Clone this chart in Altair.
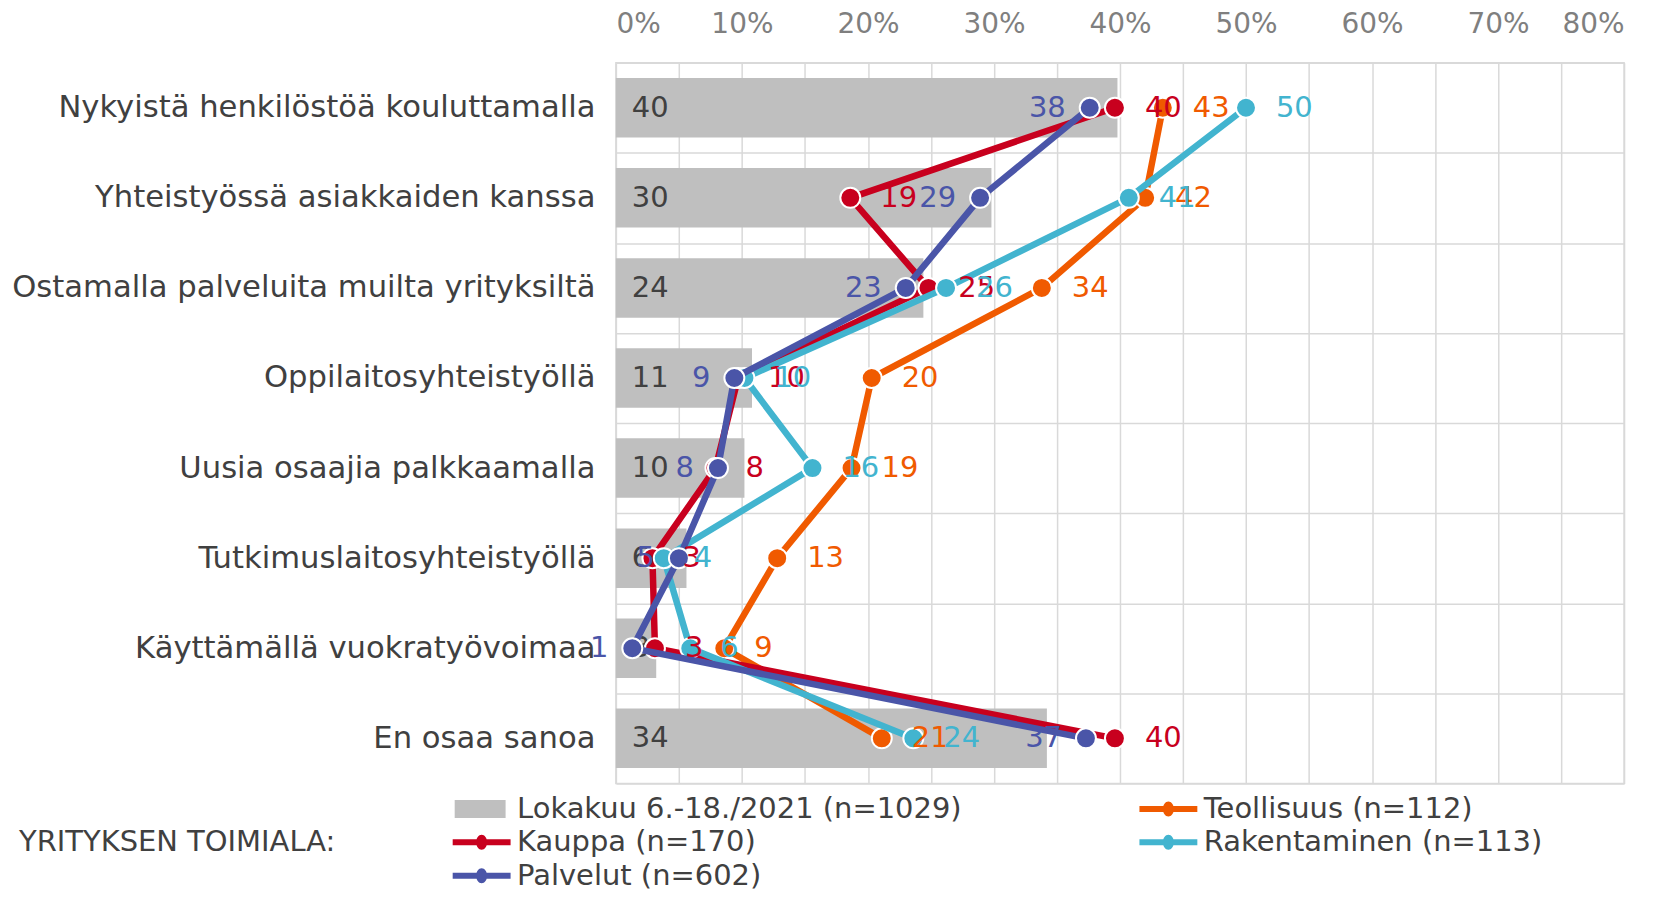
import altair as alt
import pandas as pd

categories = [
    "Nykyistä henkilöstöä kouluttamalla",
    "Yhteistyössä asiakkaiden kanssa",
    "Ostamalla palveluita muilta yrityksiltä",
    "Oppilaitosyhteistyöllä",
    "Uusia osaajia palkkaamalla",
    "Tutkimuslaitosyhteistyöllä",
    "Käyttämällä vuokratyövoimaa",
    "En osaa sanoa",
]
total_2021 = [39.8, 29.8, 24.4, 10.8, 10.2, 5.6, 3.2, 34.2]
teollisuus = [43.4, 42.0, 33.8, 20.3, 18.7, 12.8, 8.6, 21.1]
kauppa = [39.6, 18.6, 24.8, 9.7, 7.9, 2.9, 3.1, 39.6]
rakentaminen = [50.0, 40.7, 26.2, 10.2, 15.6, 3.8, 5.9, 23.6]
palvelut = [37.6, 28.9, 23.0, 9.4, 8.1, 5.0, 1.3, 37.3]

bar_name = "Lokakuu 6.-18./2021 (n=1029)"
line_names = ["Teollisuus (n=112)", "Kauppa (n=170)", "Rakentaminen (n=113)", "Palvelut (n=602)"]
colors = {
    bar_name: "#bfbfbf",
    "Teollisuus (n=112)": "#f05a00",
    "Kauppa (n=170)": "#c8001e",
    "Rakentaminen (n=113)": "#42b4cf",
    "Palvelut (n=602)": "#4a55a8",
}
# legend fills columns top-to-bottom: this gives rows Lokakuu|Teollisuus, Kauppa|Rakentaminen, Palvelut
legend_order = [bar_name, "Kauppa (n=170)", "Palvelut (n=602)", "Teollisuus (n=112)", "Rakentaminen (n=113)"]
x_ticks = [0, 5, 10, 15, 20, 25, 30, 35, 40, 45, 50, 55, 60, 65, 70, 75, 80]
legend_title = "YRITYKSEN TOIMIALA:"

FONT = "DejaVu Sans"
TXT = "#404040"

bars_df = pd.DataFrame({
    "category": categories,
    "value": total_2021,
    "zero": [0] * len(categories),
    "label": [f"{v:.0f}" for v in total_2021],
})

rows = []
for name, vals in zip(line_names, [teollisuus, kauppa, rakentaminen, palvelut]):
    for i, (c, v) in enumerate(zip(categories, vals)):
        rows.append({"series": name, "category": c, "idx": i, "value": v, "label": f"{v:.0f}"})
lines_df = pd.DataFrame(rows)

color_scale = alt.Scale(domain=legend_order, range=[colors[n] for n in legend_order])
x_scale = alt.Scale(domain=[0, 80], nice=False, zero=True)
y_scale = alt.Scale(domain=categories, paddingInner=0, paddingOuter=0)

x_axis = alt.Axis(
    orient="top", values=x_ticks,
    labelExpr="datum.value % 10 === 0 ? datum.value + '%' : ''",
    ticks=False, domain=False, grid=True, gridColor="#d9d9d9", gridWidth=1.5,
    labelFontSize=28, labelColor="#7f7f7f", labelFont=FONT, labelPadding=24, title=None,
)
y_axis = alt.Axis(
    title=None, ticks=False, domain=False, grid=True, gridColor="#d9d9d9", gridWidth=1.5,
    tickBand="extent", labelFontSize=30.7, labelColor=TXT, labelFont=FONT,
    labelPadding=21, labelLimit=0,
)

square_path = "M-2.7,-0.9H2.4V0.9H-2.7Z"
line_path = "M-2.9,-0.3H2.9V0.3H-2.9Z M0.55,0A0.55,0.75,0,1,1,-0.55,0A0.55,0.75,0,1,1,0.55,0Z"

legend = alt.Legend(
    title=legend_title, orient="none", legendX=-598, legendY=733,
    columns=2, columnPadding=177, rowPadding=3.5,
    titleOrient="left", titleAnchor="middle", titleBaseline="middle", titleLimit=600,
    titleFontSize=29, titleFontWeight="normal", titleColor=TXT, titleFont=FONT, titlePadding=132,
    labelFontSize=29, labelColor=TXT, labelFont=FONT, labelOffset=21, labelLimit=0,
    symbolSize=400, symbolStrokeWidth=0, symbolOpacity=1,
)

X = lambda f="value": alt.X(f"{f}:Q", scale=x_scale, axis=x_axis)
Y = lambda: alt.Y("category:N", sort=categories, scale=y_scale, axis=y_axis)
C = lambda: alt.Color("series:N", scale=color_scale, legend=legend)

bars = alt.Chart(bars_df).mark_bar(color=colors[bar_name], height={"band": 0.66}).encode(x=X(), y=Y())
bar_labels = alt.Chart(bars_df).mark_text(
    align="left", baseline="middle", dx=16, fontSize=29, font=FONT, color=TXT
).encode(x=X("zero"), y=Y(), text="label:N")

layers = [bars, bar_labels]
for name in line_names:
    base = alt.Chart(lines_df).transform_filter(alt.datum.series == name)
    layers.append(base.mark_line(strokeWidth=6.5).encode(x=X(), y=Y(), color=C(), order=alt.Order("idx:Q")))
    layers.append(base.mark_point(filled=True, size=400, stroke="white", strokeWidth=2, opacity=1)
                  .encode(x=X(), y=Y(), color=C()))

for name in line_names:
    right = name != "Palvelut (n=602)"
    base = alt.Chart(lines_df).transform_filter(alt.datum.series == name)
    layers.append(base.mark_text(
        align="left" if right else "right", baseline="middle",
        dx=30 if right else -24, fontSize=29, font=FONT,
    ).encode(x=X(), y=Y(), color=C(), text="label:N"))

legend_df = pd.DataFrame({"series": legend_order})
legend_layer = alt.Chart(legend_df).transform_filter("false").mark_point(
    filled=True, opacity=1, size=400, strokeWidth=0
).encode(
    color=C(),
    shape=alt.Shape("series:N", scale=alt.Scale(
        domain=legend_order,
        range=[square_path if n == bar_name else line_path for n in legend_order]), legend=legend),
)
layers.append(legend_layer)

chart = alt.layer(*layers).properties(
    width=1010, height=722,
    padding={"left": 609, "top": 54, "right": 30, "bottom": 112},
    autosize=alt.AutoSizeParams(type="none"),
).configure(font=FONT).configure_view(stroke="#d9d9d9", strokeWidth=1.5)

chart.save("out.html", embed_options={"renderer": "svg", "actions": False})
